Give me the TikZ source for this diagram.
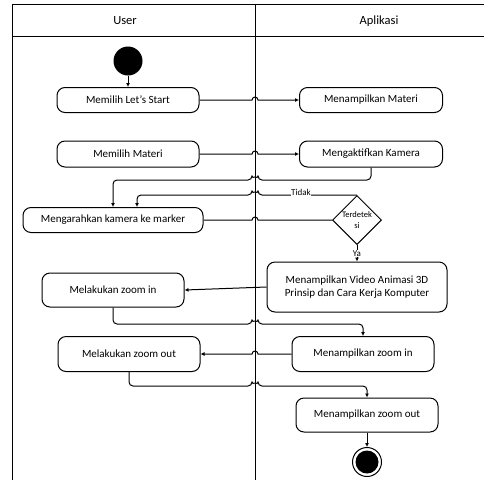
\documentclass[tikz,border=0pt]{standalone}
\usepackage{fontspec}
\setmainfont{Carlito}
\usetikzlibrary{arrows.meta,shapes.geometric,calc}

\begin{document}
\begin{tikzpicture}[x=1pt,y=-1pt,line width=1pt,
		act/.style={draw,rounded corners=8pt,minimum width=142pt,minimum height=25pt,align=center,inner sep=2pt,font=\fontsize{11}{13.5}\selectfont},
		flow/.style={-{Latex[length=4pt,width=4pt]}},
		lbl/.style={fill=white,inner sep=0.5pt,font=\fontsize{9}{10}\selectfont}]
	\useasboundingbox (0,0) rectangle (484,480);
	% swimlanes
	\draw (12,480) -- (12,4) -- (484,4);
	\draw (12,36) -- (484,36);
	\draw (255,4) -- (255,480);
	\node[font=\fontsize{12.5}{14}\selectfont] (user) at (125,21) {User};
	\node[font=\fontsize{12.5}{14}\selectfont] (app) at (379,21) {Aplikasi};
	\coordinate (lane) at (255,0);
	\coordinate (j1) at (0,180);

	% activities
	\node[circle,fill,minimum size=29pt,inner sep=0] (start) at (128,61) {};
	\node[act] (lets) at (128,100) {Memilih Let's Start};
	\node[act,minimum width=143pt] (tmat) at (371,100) {Menampilkan Materi};
	\node[act,minimum height=26pt] (pmat) at (128,154) {Memilih Materi};
	\node[act,minimum width=143pt,minimum height=26pt] (kam) at (371,154) {Mengaktifkan Kamera};
	\node[act,minimum width=180pt] (arah) at (113,220) {Mengarahkan kamera ke marker};
	\node[diamond,draw,minimum width=49pt,minimum height=49pt,inner sep=0] (cek) at (357,220) {};
	\node[align=center,inner sep=0,font=\fontsize{8.5}{11}\selectfont] (cektext) at (cek) {Terdetek\\si};
	\node[act,minimum width=180pt,minimum height=50pt] (video) at (357,287) {Menampilkan Video Animasi 3D\\Prinsip dan Cara Kerja Komputer};
	\node[act,minimum height=34pt] (zin) at (113,290) {Melakukan zoom in};
	\node[act,minimum height=35pt] (tzin) at (363,354) {Menampilkan zoom in};
	\node[act,minimum height=35pt] (zout) at (129,354) {Melakukan zoom out};
	\node[act,minimum height=34pt] (tzout) at (367,415) {Menampilkan zoom out};
	\node[circle,draw,minimum size=29pt,inner sep=0] (end) at (367,462) {};
	\node[circle,fill,minimum size=23pt,inner sep=0] (endin) at (end) {};

	% flows
	\draw[flow] (start) -- (lets);
	\draw[flow] (lets.east) -- ($(lets.east -| lane)+(-3,0)$) arc[start angle=180,end angle=0,radius=3pt] -- (tmat.west);
	\draw[flow] (pmat.east) -- ($(pmat.east -| lane)+(-3,0)$) arc[start angle=180,end angle=0,radius=3pt] -- (kam.west);
	\draw[flow,rounded corners=4pt] (kam.south) |- ($(lane |- j1)+(3,0)$) arc[start angle=0,end angle=180,radius=3pt] -| (arah.north);
	\draw[flow,rounded corners=4pt] (cek.north) -- ($(lane |- cek.north)+(3,0)$) arc[start angle=0,end angle=180,radius=3pt] -| ([xshift=24pt]arah.north);
	\node[lbl] (tidak) at (301,192) {Tidak};
	\draw (arah.east) -- ($(arah.east -| lane)+(-3,0)$) arc[start angle=180,end angle=0,radius=3pt] -- (cek.west);
	\draw[flow] (cek.south) -- (video.north) node[lbl,midway] (ya) {Ya};
	\draw[flow] (video.west) -- (zin.east);
	\draw[flow,rounded corners=4pt] (zin.south) |- ($(lane)+(-3,324)$) arc[start angle=180,end angle=0,radius=3pt] -| (tzin.north);
	\draw[flow] (tzin.west) -- ($(tzin.west -| lane)+(3,0)$) arc[start angle=0,end angle=180,radius=3pt] -- (zout.east);
	\draw[flow,rounded corners=4pt] (zout.south) |- ($(lane)+(-3,386)$) arc[start angle=180,end angle=0,radius=3pt] -| (tzout.north);
	\draw[flow] (tzout.south) -- (end.north);
\end{tikzpicture}
\end{document}
